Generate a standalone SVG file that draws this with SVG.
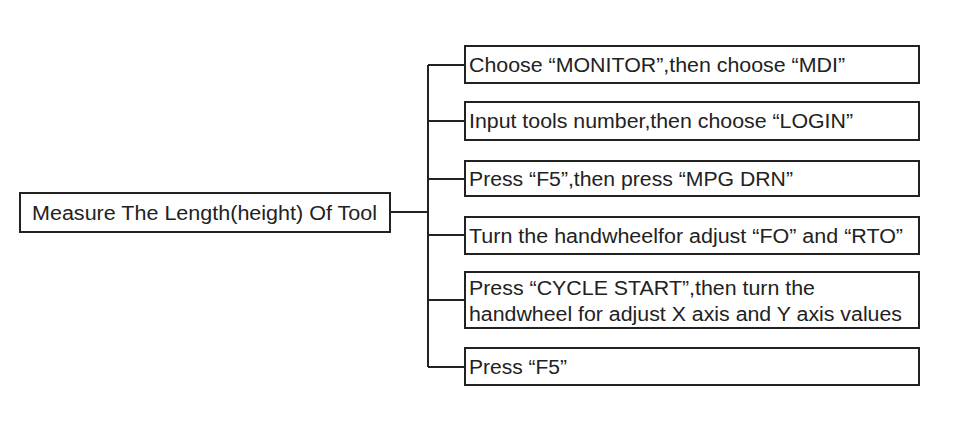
<svg xmlns="http://www.w3.org/2000/svg" width="959" height="426" viewBox="0 0 959 426">
<style>
rect{fill:#fff;stroke:#222;stroke-width:2}
text{font-family:"Liberation Sans",Arial,sans-serif;font-size:19.5px;fill:#222}
.c{stroke:#222;stroke-width:2;fill:none}
</style>
<rect x="0" y="0" width="959" height="426" style="stroke:none"/>
<g id="connectors">
<path class="c" d="M390 212H428M428 65V367M428 65H465M428 121H465M428 179H465M428 235H465M428 300H465M428 367H465"/>
</g>
<g id="root"><rect x="20" y="193" width="370" height="39"/><text x="32" y="220" textLength="345" lengthAdjust="spacingAndGlyphs">Measure The Length(height) Of Tool</text></g>
<g id="n1"><rect x="465" y="46" width="454" height="37"/><text x="469" y="72" textLength="376" lengthAdjust="spacingAndGlyphs">Choose “MONITOR”,then choose “MDI”</text></g>
<g id="n2"><rect x="465" y="102" width="454" height="38"/><text x="469" y="128" textLength="384" lengthAdjust="spacingAndGlyphs">Input tools number,then choose “LOGIN”</text></g>
<g id="n3"><rect x="465" y="161" width="454" height="35"/><text x="469" y="186" textLength="324" lengthAdjust="spacingAndGlyphs">Press “F5”,then press “MPG DRN”</text></g>
<g id="n4"><rect x="465" y="217" width="454" height="37"/><text x="469" y="243" textLength="434" lengthAdjust="spacingAndGlyphs">Turn the handwheelfor adjust “FO” and “RTO”</text></g>
<g id="n5"><rect x="465" y="272" width="454" height="56"/><text x="469" y="295" textLength="346" lengthAdjust="spacingAndGlyphs">Press “CYCLE START”,then turn the</text><text x="469" y="321" textLength="433" lengthAdjust="spacingAndGlyphs">handwheel for adjust X axis and Y axis values</text></g>
<g id="n6"><rect x="465" y="348" width="454" height="37"/><text x="469" y="374" textLength="98" lengthAdjust="spacingAndGlyphs">Press “F5”</text></g>
</svg>
